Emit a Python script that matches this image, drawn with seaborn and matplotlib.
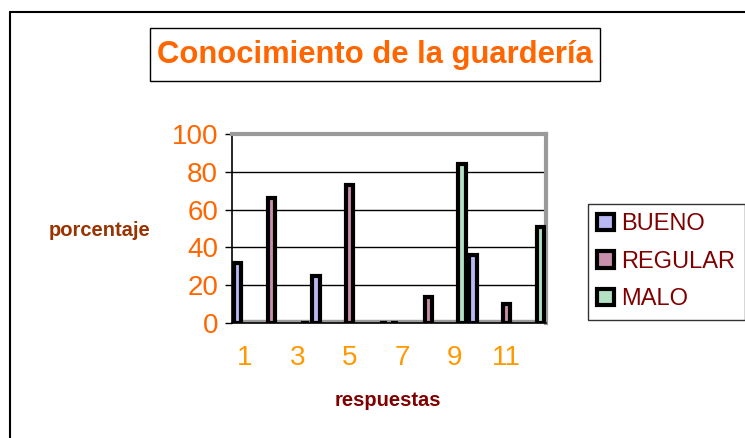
import numpy as np
import pandas as pd
import matplotlib
matplotlib.use("Agg")
import matplotlib.pyplot as plt
from matplotlib.lines import Line2D
from matplotlib.patches import Rectangle
import seaborn as sns

# ---------- Data ----------
respuestas = list(range(1, 13))
calificacion = ["BUENO", "REGULAR", "MALO"] * 4
porcentaje = [32, 66, 0, 25, 73, 0, 0, 14, 84, 36, 10, 51]
niveles = ["BUENO", "REGULAR", "MALO"]
colores = ["#b8b8f2", "#c990ac", "#b4e0c4"]
y_ticks = [0, 20, 40, 60, 80, 100]
x_labels = ["1", "", "3", "", "5", "", "7", "", "9", "", "11", ""]

df = pd.DataFrame({"respuestas": respuestas,
                   "calificacion": calificacion,
                   "porcentaje": porcentaje})

# ---------- Figure ----------
sns.set_style("white")
plt.rcParams["font.family"] = ["Liberation Sans", "DejaVu Sans"]

fig = plt.figure(figsize=(7.45, 4.38), dpi=100)
ax = fig.add_axes([232 / 745, 1 - 323 / 438, 314 / 745, 189 / 438])

sns.barplot(data=df, x="respuestas", y="porcentaje", hue="calificacion",
            hue_order=niveles, palette=colores, width=0.85, dodge=True,
            edgecolor="black", linewidth=3, saturation=1,
            errorbar=None, ax=ax, zorder=3)

ax.set_ylim(0, 100)
ax.set_xlim(-0.5, 11.5)
ax.set_yticks(y_ticks)
ax.set_yticklabels([str(v) for v in y_ticks], color="#ff6600", fontsize=20)
ax.set_xticks(range(12))
ax.set_xticklabels(x_labels, color="#ff9900", fontsize=20)
ax.tick_params(axis="x", length=0, pad=16)
ax.set_xticks(np.arange(-0.5, 12, 1), minor=True)
ax.tick_params(axis="x", which="minor", length=5, color="black", width=1, direction="out")
ax.tick_params(axis="y", length=5, color="black", width=1, direction="out", left=True, pad=5)

# grid + 3D-ish walls
ax.yaxis.grid(True, color="black", linewidth=1, zorder=0)
ax.set_axisbelow(True)
ax.axhspan(0, 1.6, color="#9a9a9a", zorder=1)
for side in ["left", "bottom"]:
    ax.spines[side].set_color("black")
    ax.spines[side].set_linewidth(1.2)
for side in ["top", "right"]:
    ax.spines[side].set_color("#9a9a9a")
    ax.spines[side].set_linewidth(3)

ax.set_xlabel("")
ax.set_ylabel("")
fig.text(388 / 745, 1 - 400 / 438, "respuestas", ha="center", va="center",
         fontsize=14.5, fontweight="bold", color="#800000")
fig.text(100 / 745, 1 - 230 / 438, "porcentaje", ha="center", va="center",
         fontsize=14.5, fontweight="bold", color="#993300")

# title box
fig.add_artist(Rectangle((150 / 745, 1 - 81 / 438), 450 / 745, 53 / 438,
                         transform=fig.transFigure, fill=False,
                         edgecolor="black", linewidth=1))
fig.text(375 / 745, 1 - 55 / 438, "Conocimiento de la guardería",
         ha="center", va="center", fontsize=22.3, fontweight="bold", color="#ff6600")

# legend
handles, labels = ax.get_legend_handles_labels()
ax.legend_.remove()
leg = fig.legend(handles, labels, loc="upper left",
                 bbox_to_anchor=(588 / 745, 1 - 204 / 438),
                 frameon=True, fancybox=False, fontsize=17,
                 handlelength=0.7, handleheight=0.7, handletextpad=0.3,
                 labelspacing=0.65, borderpad=0.4, borderaxespad=0)
leg.get_frame().set_edgecolor("black")
leg.get_frame().set_linewidth(1)
for t in leg.get_texts():
    t.set_color("#800000")

# outer chart border (left and top)
fig.add_artist(Line2D([9.5 / 745, 9.5 / 745], [0, 1 - 12 / 438],
                      transform=fig.transFigure, color="black", linewidth=1.5))
fig.add_artist(Line2D([9.5 / 745, 1], [1 - 12 / 438, 1 - 12 / 438],
                      transform=fig.transFigure, color="black", linewidth=1.5))

plt.savefig("out.png", dpi=100)
